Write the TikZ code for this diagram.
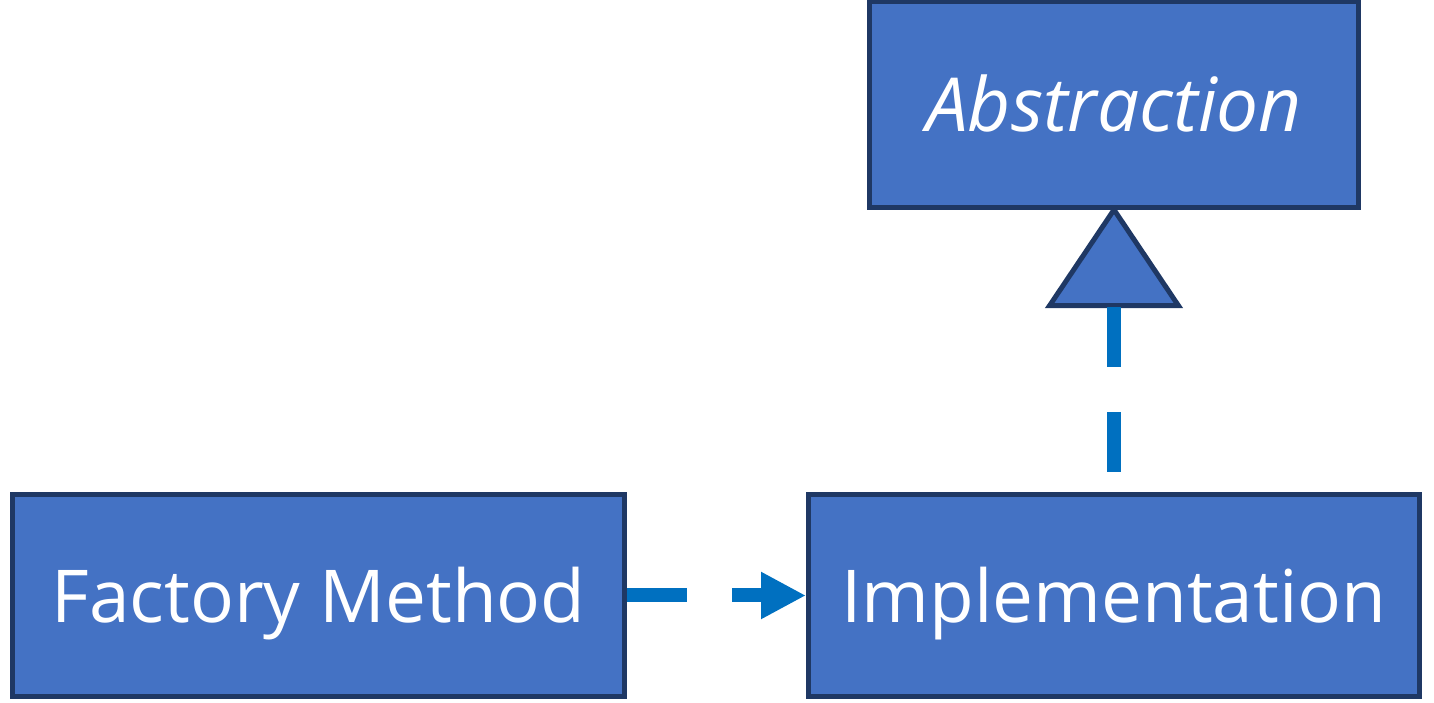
\documentclass[tikz,border=0pt]{standalone}
\usepackage{fontspec}
\setmainfont{Open Sans}
\usepackage{tikz}
\usetikzlibrary{positioning,arrows.meta}
\definecolor{boxblue}{HTML}{4472C4}
\definecolor{boxedge}{HTML}{1F3864}
\definecolor{linkblue}{HTML}{0070C0}

\begin{document}
\begin{tikzpicture}[
        block/.style={draw=boxedge, fill=boxblue, line width=0.1cm, text=white,
            minimum height=4.05cm, inner sep=0pt, text height=1.1cm, text depth=0cm,
            font=\fontsize{41.5}{48}\selectfont},
        link/.style={draw=linkblue, line width=0.28cm, dash pattern=on 1.2cm off 0.9cm},
        node distance=3.58cm
    ]
        \useasboundingbox (0,0) rectangle (28.68,14.06);
        % Draw the three boxes
        \node[block, minimum width=12.24cm] (factory) at (6.37,2.15) {Factory Method};
        \node[block, minimum width=12.22cm, right=of factory] (impl) {Implementation};
        \node[block, minimum width=9.78cm, minimum height=4.11cm, above=5.64cm of impl,
            font=\fontsize{42.5}{48}\selectfont\itshape] (abstr) {Abstraction};

        % Draw the inheritance triangle
        \draw[boxedge, fill=boxblue, line width=0.1cm, line join=miter]
            (abstr.south) -- ++(1.29,-1.92) -- ++(-2.58,0) -- cycle;
        \coordinate (tri) at ([yshift=-1.92cm]abstr.south);

        % Draw the dashed connectors
        \draw[link, shorten <=0.4cm] (impl.north) -- (tri);
        \draw[link, -{Triangle[length=0.9cm, width=0.88cm]}] (factory.east) -- (impl.west);
    \end{tikzpicture}
\end{document}
